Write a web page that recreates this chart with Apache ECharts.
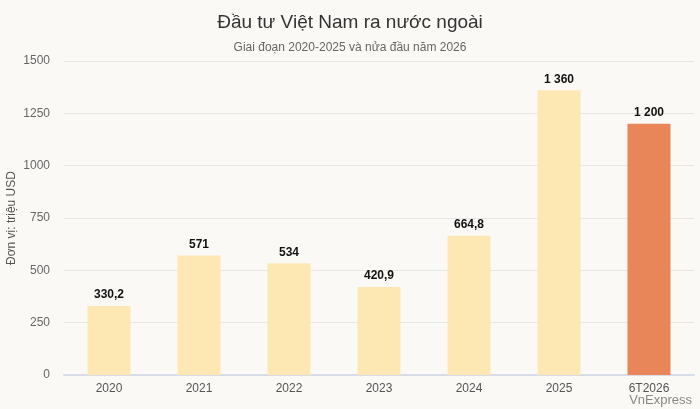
<!DOCTYPE html>
<html>
<head>
<meta charset="utf-8">
<script src="https://cdn.jsdelivr.net/npm/echarts@6/dist/echarts.min.js"></script>
<style>
  html, body { margin: 0; padding: 0; background: #faf9f6; }
  #main { width: 700px; height: 409px; }
</style>
</head>
<body>
<div id="main"></div>
<script>
// du lieu dau tu ra nuoc ngoai (trieu USD)
var years = ['2020', '2021', '2022', '2023', '2024', '2025', '6T2026'];
var values = [330.2, 571, 534, 420.9, 664.8, 1360, 1200];
var yTicks = [0, 250, 500, 750, 1000, 1250, 1500];

var barColor = '#fde8b4';
var lastColor = '#e8865a';

// dinh dang so kieu Viet: 1 360 / 330,2
function fmt(v) {
  var parts = String(v).split('.');
  var intPart = parts[0].replace(/\B(?=(\d{3})+(?!\d))/g, ' ');
  return parts.length > 1 ? intPart + ',' + parts[1] : intPart;
}

var data = [];
for (var i = 0; i < values.length; i++) {
  data.push({
    value: values[i],
    itemStyle: { color: i == values.length - 1 ? lastColor : barColor }
  });
}

var option = {
  backgroundColor: '#faf9f6',
  textStyle: { fontFamily: 'Arial, Liberation Sans, sans-serif' },
  title: [{
    text: 'Đầu tư Việt Nam ra nước ngoài',
    left: 'center',
    top: 8,
    textStyle: { color: '#333', fontSize: 19, fontWeight: 'normal' }
  }, {
    text: 'Giai đoạn 2020-2025 và nửa đầu năm 2026',
    left: 'center',
    top: 37,
    textStyle: { color: '#666', fontSize: 12, fontWeight: 'normal' }
  }, {
    text: 'VnExpress',
    right: 3,
    top: 389,
    textStyle: { color: '#888', fontSize: 13, fontWeight: 'normal' }
  }],
  grid: { left: 64, right: 6, top: 61, bottom: 34, outerBoundsMode: 'none' },
  xAxis: {
    type: 'category',
    data: years,
    axisLine: { lineStyle: { color: '#d6dde8', width: 2 } },
    axisTick: { show: false },
    axisLabel: { color: '#555', fontSize: 12, margin: 8 }
  },
  yAxis: {
    type: 'value',
    min: yTicks[0],
    max: yTicks[yTicks.length - 1],
    interval: 250,
    name: 'Đơn vị: triệu USD',
    nameLocation: 'middle',
    nameGap: 46,
    nameMoveOverlap: false,
    nameTextStyle: { color: '#555', fontSize: 12 },
    axisLabel: { color: '#666', fontSize: 12, margin: 14, formatter: function(v) { return String(v); } },
    splitLine: { lineStyle: { color: '#e6e6e6' } },
    axisLine: { show: false },
    axisTick: { show: false }
  },
  series: [{
    type: 'bar',
    data: data,
    barWidth: 43,
    label: {
      show: true,
      position: 'top',
      color: '#111',
      fontSize: 12,
      fontWeight: 'bold',
      distance: 5,
      formatter: function(p) { return fmt(p.value); }
    }
  }]
};

var myChart = echarts.init(document.getElementById('main'));
myChart.setOption(option);
</script>
</body>
</html>
